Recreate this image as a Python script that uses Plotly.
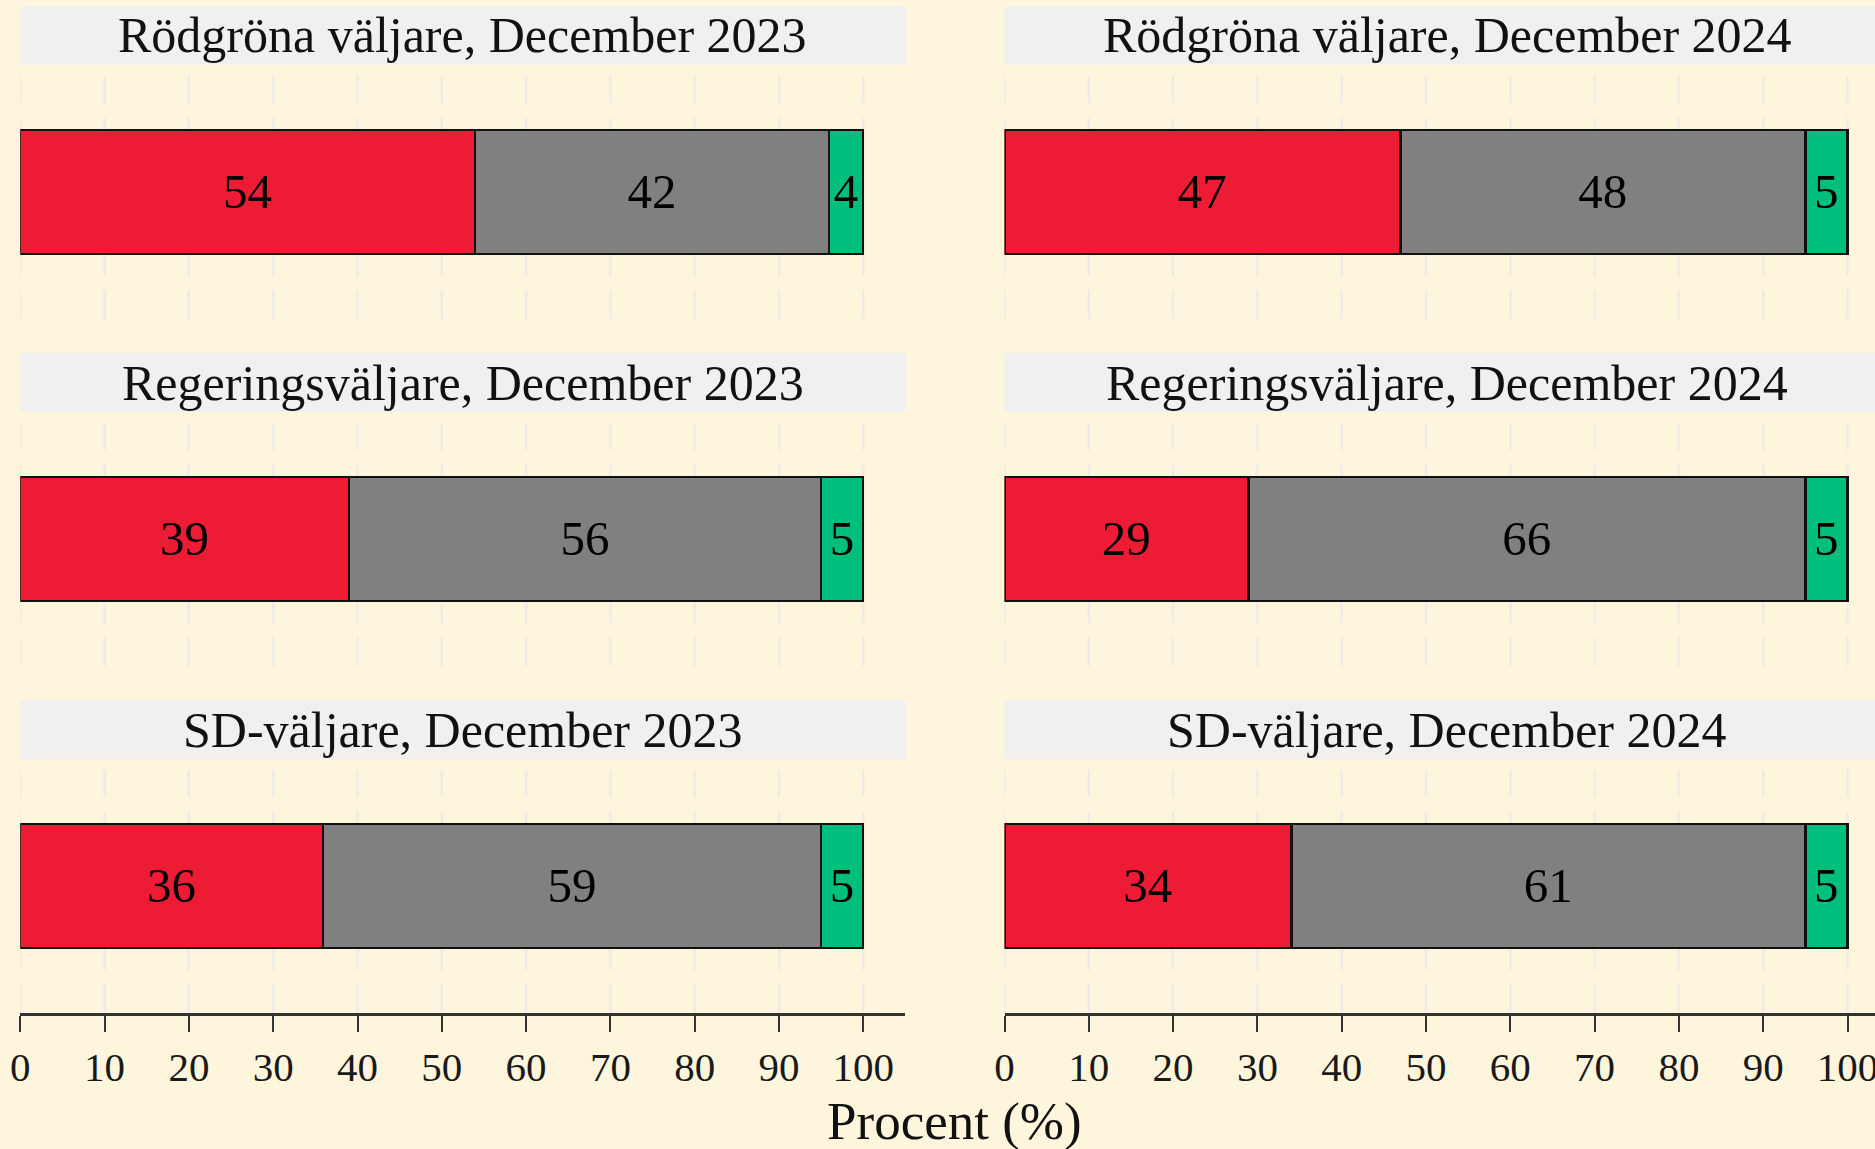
import plotly.graph_objects as go

# ---- data -------------------------------------------------------------
panel_titles = [
    "Rödgröna väljare, December 2023",
    "Rödgröna väljare, December 2024",
    "Regeringsväljare, December 2023",
    "Regeringsväljare, December 2024",
    "SD-väljare, December 2023",
    "SD-väljare, December 2024",
]
red_share = [54, 47, 39, 29, 36, 34]
grey_share = [42, 48, 56, 66, 59, 61]
green_share = [4, 5, 5, 5, 5, 5]

x_ticks = [0, 10, 20, 30, 40, 50, 60, 70, 80, 90, 100]
x_title = "Procent (%)"

# ---- styling ----------------------------------------------------------
W, H = 1875, 1149
BG = "#FEF6DC"
STRIP = "#F0F0F0"
GRID = "#ECEBE8"
FONT = "Liberation Serif"
colors = ["#EE1B35", "#808080", "#00BF7D"]
series = [red_share, grey_share, green_share]
series_names = ["röd", "grå", "grön"]

px_per_unit = 8.43
col_left = [20.3, 1004.5]          # pixel position of x = 0 in each column
panel_span = 105                   # x units visible in a full-width panel
row_top = [6, 353, 700]            # top of each strip (pixels)
strip_h = 59
panel_h = 254
# vertical grid lines are broken into these pieces (pixels below panel top)
grid_pieces = [(11, 38), (53, 211), (225, 254)]

fig = go.Figure()
shapes = []
annotations = []

for i, title in enumerate(panel_titles):
    r, c = divmod(i, 2)
    k = i + 1
    xa = "x" if k == 1 else f"x{k}"
    ya = "y" if k == 1 else f"y{k}"

    x0_px = col_left[c]
    x1_px = min(W, x0_px + panel_span * px_per_unit)
    x_max = (x1_px - x0_px) / px_per_unit
    strip_top = row_top[r]
    p_top = strip_top + strip_h
    p_bot = p_top + panel_h

    bottom_row = r == 2
    fig.update_layout({
        f"xaxis{'' if k == 1 else k}": dict(
            domain=[x0_px / W, x1_px / W],
            range=[0, x_max],
            anchor=ya,
            automargin=False,
            tickvals=x_ticks,
            ticktext=[str(t) for t in x_ticks],
            showticklabels=bottom_row,
            ticklabeloverflow="allow",
            ticks="outside" if bottom_row else "",
            ticklen=16, tickwidth=2, tickcolor="#333333",
            showline=bottom_row, linecolor="#333333", linewidth=2.5,
            showgrid=False,
            zeroline=False,
            tickfont=dict(family=FONT, size=41, color="#1a1a1a"),
            fixedrange=True,
        ),
        f"yaxis{'' if k == 1 else k}": dict(
            domain=[1 - p_bot / H, 1 - p_top / H],
            range=[-1, 1],
            anchor=xa,
            automargin=False,
            visible=False,
            fixedrange=True,
        ),
    })

    # stacked segments
    for vals, col, name in zip(series, colors, series_names):
        fig.add_trace(go.Bar(
            x=[vals[i]], y=[0], orientation="h", width=0.976,
            xaxis=xa, yaxis=ya, name=name, showlegend=False,
            marker=dict(color=col, line=dict(color="#111111", width=2.5)),
            text=[str(vals[i])], textposition="inside",
            insidetextanchor="middle", textangle=0, constraintext="none",
            textfont=dict(family=FONT, size=49, color="#000000"),
            hoverinfo="skip",
        ))

    # broken vertical grid lines
    for v in x_ticks:
        for a, b in grid_pieces:
            shapes.append(dict(
                type="line", layer="below",
                xref=xa, yref=f"{ya} domain",
                x0=v, x1=v, y0=1 - b / panel_h, y1=1 - a / panel_h,
                line=dict(color=GRID, width=2.5),
            ))

    # facet strip
    shapes.append(dict(
        type="rect", layer="below",
        xref=f"{xa} domain", yref="paper",
        x0=0, x1=1, y0=1 - p_top / H, y1=1 - strip_top / H,
        fillcolor=STRIP, line=dict(width=0),
    ))
    annotations.append(dict(
        text=title, xref=xa, yref="paper",
        x=panel_span / 2, y=1 - (strip_top + strip_h / 2) / H,
        xanchor="center", yanchor="middle", showarrow=False,
        font=dict(family=FONT, size=50, color="#111111"),
    ))

annotations.append(dict(
    text=x_title, xref="paper", yref="paper",
    x=954 / W, y=1 - 1121 / H, xanchor="center", yanchor="middle",
    showarrow=False, font=dict(family=FONT, size=53, color="#111111"),
))

fig.update_layout(
    width=W, height=H,
    margin=dict(l=0, r=0, t=0, b=0, autoexpand=False),
    paper_bgcolor=BG, plot_bgcolor=BG,
    barmode="stack", bargap=0,
    shapes=shapes, annotations=annotations,
    showlegend=False, hovermode=False,
)

fig.write_html("out.html", config={"displayModeBar": False})
